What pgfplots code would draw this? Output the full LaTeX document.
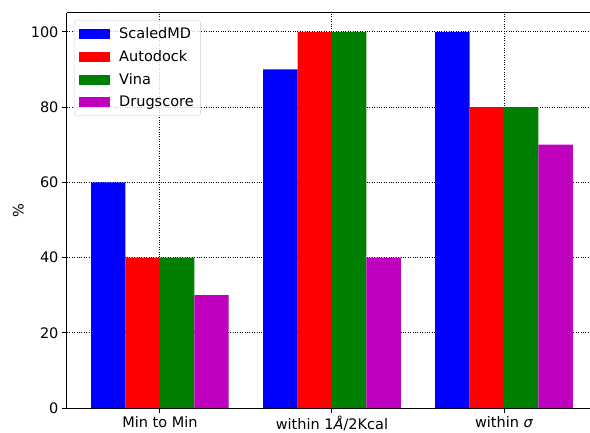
\documentclass[border=0pt]{standalone}
\usepackage{fontspec}
\setmainfont{DejaVu Sans}
\usepackage{pgfplots}
\pgfplotsset{compat=1.18}
\definecolor{mplgreen}{RGB}{0,128,0}
\definecolor{mplmag}{RGB}{191,0,191}
\begin{document}
\begin{tikzpicture}[font=\fontsize{14.5}{17}\selectfont]
\begin{axis}[
  scale only axis, width=523pt, height=395pt,
  xmin=-0.54, xmax=2.5, ymin=0, ymax=105,
  ybar, bar width=0.2, bar shift=0pt,
  xtick={0,1,2},
  xticklabels={Min to Min, within 1{\itshape Å}/2Kcal, within {\itshape σ}},
  ytick={0,20,40,60,80,100},
  /pgf/number format/assume math mode=true,
  grid=major, grid style={black, dotted, line width=0.9pt},
  axis lines=left, axis line style={-, line width=1pt, black},
  tick align=outside, major tick length=5pt,
  tick style={black, line width=0.9pt},
  ylabel={\%},
  legend style={at={(0.0134,0.9825)}, anchor=north west, draw=black!20, rounded corners=3pt,
    fill=white, fill opacity=0.8, text opacity=1, row sep=6.4pt, inner xsep=5pt, inner ysep=5.5pt,
    font=\fontsize{14.5}{17}\selectfont},
  legend cell align=left,
  legend image code/.code={\fill[#1, sharp corners, fill opacity=1] (0pt,-5pt) rectangle (31pt,5pt); \path (38pt,0pt);},
  after end axis/.code={\draw[line width=1pt, black] (rel axis cs:0,1) -- (rel axis cs:1,1);},
]
\addplot[fill=blue, draw=none] coordinates {(-0.3,60) (0.7,90) (1.7,100)};
\addplot[fill=red, draw=none] coordinates {(-0.1,40) (0.9,100) (1.9,80)};
\addplot[fill=mplgreen, draw=none] coordinates {(0.1,40) (1.1,100) (2.1,80)};
\addplot[fill=mplmag, draw=none] coordinates {(0.3,30) (1.3,40) (2.3,70)};
\legend{ScaledMD, Autodock, Vina, Drugscore}
\end{axis}
\pgfresetboundingbox
\path[use as bounding box] (-67pt,-24pt) rectangle (523pt,408pt);
\end{tikzpicture}
\end{document}
